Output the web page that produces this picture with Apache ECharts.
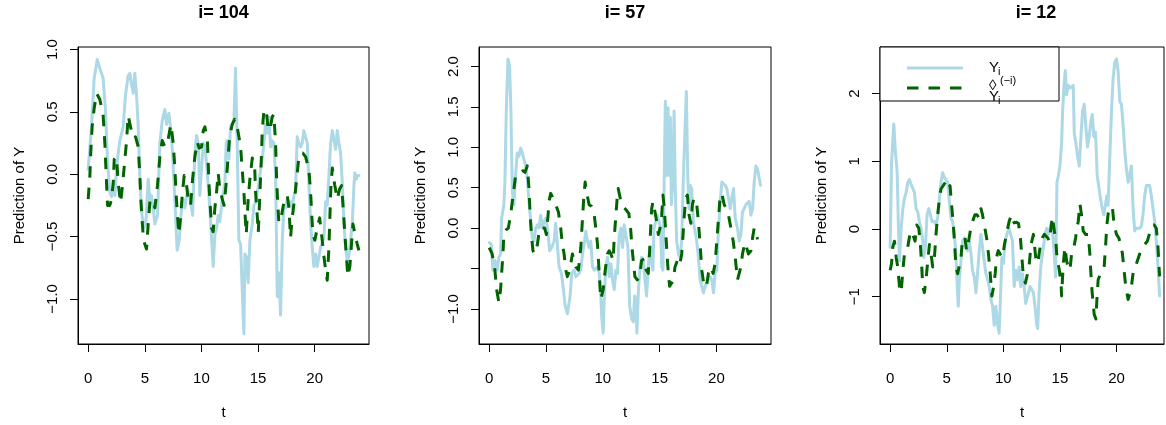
<!DOCTYPE html>
<html>
<head>
<meta charset="utf-8">
<script src="https://cdn.jsdelivr.net/npm/echarts@6/dist/echarts.min.js"></script>
<style>
html,body{margin:0;padding:0;background:#fff;}
#chart{width:1166px;height:425px;}
</style>
</head>
<body>
<div id="chart"></div>
<script>
// ---- data (t, value) ----
const titles = ['i= 104', 'i= 57', 'i= 12'];
const xTicks = [0, 5, 10, 15, 20];
const p1YTicks = [-1, -0.5, 0, 0.5, 1];
const p1YLabels = [-1, -0.5, 0, 0.5, 1];
const p2YTicks = [-1, -0.5, 0, 0.5, 1, 1.5, 2];
const p2YLabels = [-1, 0, 0.5, 1, 1.5, 2];
const p3YTicks = [-1, 0, 1, 2];
const p3YLabels = [-1, 0, 1, 2];

const p1Actual = [[0,0.04],[0.29,0.38],[0.53,0.77],[0.8,0.92],[1.03,0.85],[1.32,0.77],[1.53,0.51],[1.7,0.12],[1.91,-0.14],[2.06,-0.18],[2.21,-0.12],[2.36,-0.17],[2.5,0.04],[2.65,0.17],[2.8,0.27],[2.94,0.26],[3.09,0.38],[3.3,0.64],[3.53,0.79],[3.68,0.81],[3.83,0.72],[3.98,0.65],[4.12,0.81],[4.27,0.64],[4.42,0.38],[4.56,-0.01],[4.71,-0.3],[4.92,-0.43],[5.09,-0.4],[5.3,-0.04],[5.45,-0.22],[5.59,-0.17],[5.74,-0.27],[5.89,-0.4],[6.12,-0.33],[6.33,0.25],[6.54,0.43],[6.77,0.52],[6.92,0.4],[7.13,0.49],[7.3,0.35],[7.45,0.17],[7.66,-0.22],[7.86,-0.61],[8.04,-0.53],[8.25,-0.27],[8.39,-0.2],[8.54,-0.27],[8.69,-0.17],[8.83,-0.13],[9.04,-0.22],[9.22,-0.33],[9.42,0.17],[9.57,0.31],[9.72,0.25],[9.86,-0.17],[10.01,-0.16],[10.16,0.25],[10.31,0.23],[10.45,0.09],[10.69,-0.2],[10.84,-0.43],[11.04,-0.74],[11.19,-0.48],[11.34,-0.43],[11.48,-0.33],[11.63,-0.38],[11.84,-0.2],[12.07,-0.07],[12.19,0.25],[12.28,0.27],[12.43,0.12],[12.57,0.38],[12.72,0.4],[12.87,0.43],[13.01,0.85],[13.16,0.25],[13.31,-0.53],[13.46,-0.56],[13.6,-0.92],[13.75,-1.28],[13.84,-0.64],[13.96,-0.66],[14.13,-0.87],[14.28,-0.53],[14.49,-0.4],[14.63,-0.25],[14.78,-0.23],[14.93,-0.22],[15.08,-0.07],[15.22,0.04],[15.37,0.12],[15.52,0.25],[15.66,0.4],[15.81,0.33],[15.96,0.46],[16.11,0.22],[16.25,0.27],[16.4,0.25],[16.55,-0.01],[16.7,-0.98],[16.84,-0.79],[16.99,-1.13],[17.14,-0.53],[17.29,-0.25],[17.43,-0.27],[17.58,-0.2],[17.73,-0.25],[17.87,-0.22],[18.02,-0.27],[18.17,-0.17],[18.31,-0.14],[18.46,0.3],[18.61,0.25],[18.76,0.22],[18.9,0.25],[19.05,0.35],[19.2,0.35],[19.35,0.25],[19.49,-0.07],[19.64,-0.38],[19.79,-0.59],[19.93,-0.74],[20.08,-0.64],[20.23,-0.74],[20.38,-0.66],[20.52,-0.59],[20.67,-0.59],[20.82,-0.51],[20.97,-0.22],[21.11,-0.25],[21.26,-0.01],[21.41,0.25],[21.56,0.35],[21.7,0.35],[21.85,0.2],[22.0,0.35],[22.14,0.25],[22.29,0.17],[22.44,-0.07],[22.58,-0.38],[22.73,-0.59],[22.88,-0.69],[23.02,-0.66],[23.17,-0.53],[23.32,-0.4],[23.47,-0.09],[23.55,0.01],[23.67,-0.04],[23.79,-0.01],[23.91,-0.01]];
const p1Pred = [[0,-0.2],[0.15,-0.01],[0.24,0.2],[0.35,0.38],[0.53,0.53],[0.74,0.65],[1.03,0.6],[1.32,0.47],[1.47,0.25],[1.59,-0.01],[1.71,-0.25],[1.91,-0.25],[2.06,-0.2],[2.21,-0.07],[2.3,0.12],[2.5,0.14],[2.65,-0.07],[2.86,-0.23],[3.03,-0.09],[3.24,0.12],[3.39,0.27],[3.53,0.47],[3.74,0.38],[3.98,0.29],[4.18,0.3],[4.42,0.22],[4.56,-0.01],[4.65,-0.2],[4.77,-0.38],[4.89,-0.53],[5.15,-0.6],[5.3,-0.4],[5.45,-0.22],[5.65,-0.2],[5.89,-0.27],[6.12,-0.09],[6.33,0.14],[6.54,0.27],[6.77,0.22],[7.0,0.25],[7.3,0.4],[7.51,0.25],[7.66,0.04],[7.74,-0.12],[7.86,-0.3],[8.01,-0.48],[8.16,-0.35],[8.3,-0.17],[8.48,-0.01],[8.63,-0.04],[8.83,-0.2],[9.04,-0.25],[9.22,-0.04],[9.42,0.14],[9.63,0.26],[9.8,0.21],[10.01,0.22],[10.16,0.35],[10.31,0.38],[10.54,0.25],[10.66,-0.07],[10.78,-0.25],[10.9,-0.43],[11.04,-0.46],[11.19,-0.27],[11.34,-0.14],[11.48,0.01],[11.63,-0.12],[11.84,-0.2],[12.0,-0.25],[12.19,-0.07],[12.34,0.12],[12.49,0.3],[12.72,0.4],[12.93,0.44],[13.16,0.38],[13.31,0.38],[13.46,0.22],[13.6,0.04],[13.75,-0.14],[13.84,-0.3],[13.96,-0.48],[14.13,-0.2],[14.28,-0.04],[14.49,0.13],[14.7,0.07],[14.78,-0.14],[14.93,-0.33],[15.02,-0.47],[15.16,-0.17],[15.31,0.17],[15.37,0.35],[15.52,0.51],[15.72,0.52],[15.87,0.38],[16.04,0.35],[16.25,0.46],[16.4,0.48],[16.55,0.25],[16.63,-0.01],[16.72,-0.2],[16.84,-0.39],[17.08,-0.33],[17.29,-0.22],[17.58,-0.17],[17.73,-0.27],[17.87,-0.51],[18.02,-0.35],[18.26,-0.17],[18.46,0.01],[18.61,0.14],[18.76,0.17],[18.96,0.17],[19.2,0.14],[19.49,0.04],[19.64,-0.14],[19.73,-0.3],[19.84,-0.48],[20.02,-0.53],[20.23,-0.43],[20.44,-0.35],[20.67,-0.53],[20.82,-0.66],[20.97,-0.77],[21.11,-0.85],[21.26,-0.59],[21.35,-0.33],[21.44,-0.09],[21.56,0.05],[21.76,-0.08],[22.0,-0.2],[22.2,-0.12],[22.38,-0.09],[22.52,-0.27],[22.67,-0.48],[22.79,-0.64],[22.93,-0.82],[23.11,-0.74],[23.23,-0.59],[23.38,-0.4],[23.55,-0.39],[23.76,-0.56],[23.91,-0.61]];

const p2Actual = [[0,-0.18],[0.18,-0.2],[0.32,-0.52],[0.5,-0.4],[0.71,-0.52],[0.85,-0.36],[1.0,-0.32],[1.09,0.12],[1.29,0.29],[1.38,0.57],[1.5,1.45],[1.65,2.09],[1.79,2.01],[1.91,1.45],[2.03,0.45],[2.18,0.29],[2.32,0.65],[2.47,0.93],[2.62,0.89],[2.76,0.99],[2.91,0.93],[3.06,0.85],[3.21,0.77],[3.35,0.61],[3.5,0.33],[3.65,0.08],[3.79,-0.12],[3.94,-0.16],[4.09,0.0],[4.24,0.04],[4.38,0.0],[4.53,0.16],[4.68,0.0],[4.82,0.08],[4.97,0.12],[5.12,0.0],[5.32,-0.28],[5.5,-0.24],[5.71,-0.16],[5.85,0.06],[6.0,0.04],[6.15,-0.48],[6.35,-0.56],[6.5,-0.72],[6.68,-0.96],[6.88,-1.06],[7.03,-1.08],[7.12,-0.84],[7.26,-0.56],[7.47,-0.52],[7.62,-0.6],[7.76,-0.6],[7.91,-0.56],[8.06,-0.52],[8.21,-0.32],[8.35,-0.2],[8.5,-0.04],[8.65,-0.16],[8.79,-0.24],[8.94,-0.16],[9.09,-0.48],[9.24,-0.52],[9.38,-0.52],[9.53,-0.48],[9.68,-0.56],[9.82,-0.84],[9.91,-1.12],[10.03,-1.3],[10.12,-0.88],[10.26,-0.48],[10.41,-0.36],[10.56,-0.6],[10.71,-0.44],[10.85,-0.64],[11.0,-0.76],[11.15,-0.52],[11.29,-0.56],[11.44,-0.08],[11.59,0.0],[11.74,-0.24],[11.88,0.04],[12.03,0.06],[12.21,-0.24],[12.36,-0.96],[12.53,-1.12],[12.68,-1.16],[12.8,-0.84],[12.88,-0.88],[13.0,-1.3],[13.12,-0.8],[13.27,-0.48],[13.41,-0.36],[13.56,-0.4],[13.71,-0.64],[13.85,-0.84],[14.0,-0.48],[14.15,-0.24],[14.3,-0.44],[14.41,-0.52],[14.5,0.0],[14.65,0.08],[14.8,0.16],[14.94,0.08],[15.09,0.0],[15.18,-0.48],[15.29,-0.52],[15.38,0.37],[15.5,1.57],[15.62,0.65],[15.74,1.49],[15.85,0.65],[15.94,1.37],[16.03,0.29],[16.15,0.57],[16.27,1.45],[16.38,0.45],[16.5,-0.16],[16.65,-0.32],[16.79,-0.36],[16.94,-0.16],[17.09,0.65],[17.24,1.25],[17.35,1.69],[17.47,0.65],[17.59,0.24],[17.68,0.53],[17.82,0.49],[17.97,0.08],[18.12,-0.04],[18.26,-0.16],[18.41,-0.36],[18.56,-0.64],[18.71,-0.72],[18.85,-0.8],[19.0,-0.72],[19.15,-0.74],[19.29,-0.64],[19.44,-0.6],[19.59,-0.64],[19.74,-0.8],[19.88,-0.56],[20.03,-0.52],[20.18,0.0],[20.33,0.33],[20.47,0.57],[20.62,0.59],[20.77,0.53],[20.91,0.49],[21.06,0.37],[21.21,0.24],[21.35,0.37],[21.5,0.49],[21.65,0.12],[21.85,0.0],[22.0,-0.16],[22.15,-0.08],[22.29,0.2],[22.44,0.24],[22.59,0.29],[22.74,0.27],[22.88,0.33],[23.03,0.16],[23.18,0.24],[23.32,0.57],[23.47,0.77],[23.62,0.73],[23.77,0.61],[23.88,0.53]];
const p2Pred = [[0,-0.24],[0.26,-0.32],[0.5,-0.52],[0.65,-0.76],[0.85,-0.92],[1.0,-0.76],[1.09,-0.56],[1.21,-0.32],[1.29,-0.06],[1.5,-0.02],[1.68,0.0],[1.88,0.16],[2.03,0.33],[2.18,0.49],[2.32,0.65],[2.56,0.69],[2.76,0.69],[2.97,0.71],[3.15,0.69],[3.35,0.77],[3.5,0.49],[3.59,0.2],[3.71,-0.08],[3.85,-0.28],[4.03,-0.32],[4.24,-0.2],[4.44,0.0],[4.68,0.0],[4.88,0.0],[5.03,-0.08],[5.18,0.16],[5.26,0.33],[5.41,0.43],[5.62,0.37],[5.85,0.29],[6.09,0.2],[6.29,0.0],[6.44,-0.2],[6.59,-0.32],[6.74,-0.52],[6.88,-0.6],[7.09,-0.52],[7.32,-0.32],[7.62,-0.48],[7.85,-0.52],[8.06,-0.24],[8.21,0.12],[8.32,0.37],[8.44,0.57],[8.62,0.41],[8.79,0.29],[9.0,0.27],[9.21,0.2],[9.38,0.0],[9.53,-0.2],[9.68,-0.56],[9.82,-0.88],[10.03,-0.76],[10.21,-0.52],[10.41,-0.32],[10.56,-0.28],[10.71,-0.32],[10.91,-0.4],[11.0,-0.12],[11.15,0.16],[11.26,0.37],[11.35,0.49],[11.59,0.33],[11.79,0.26],[12.03,0.23],[12.29,0.18],[12.44,0.0],[12.59,-0.28],[12.74,-0.48],[12.82,-0.6],[13.03,-0.64],[13.24,-0.6],[13.41,-0.4],[13.62,-0.38],[13.82,-0.52],[14.0,-0.56],[14.12,-0.28],[14.21,0.0],[14.3,0.24],[14.41,0.33],[14.59,0.2],[14.74,0.08],[14.88,-0.08],[15.03,0.0],[15.18,0.16],[15.29,0.41],[15.41,0.24],[15.53,-0.04],[15.65,-0.32],[15.76,-0.56],[15.88,-0.72],[16.06,-0.68],[16.21,-0.64],[16.35,-0.48],[16.56,-0.4],[16.76,-0.46],[16.94,-0.32],[17.06,-0.08],[17.15,0.12],[17.29,0.37],[17.44,0.41],[17.59,0.16],[17.74,0.06],[17.88,0.29],[18.03,0.37],[18.24,0.33],[18.41,0.08],[18.56,-0.2],[18.71,-0.52],[18.91,-0.72],[19.12,-0.72],[19.29,-0.56],[19.5,-0.48],[19.71,-0.56],[19.88,-0.44],[20.03,-0.16],[20.18,0.12],[20.29,0.33],[20.47,0.43],[20.68,0.29],[20.88,0.24],[21.06,0.16],[21.27,0.0],[21.47,-0.16],[21.65,-0.36],[21.85,-0.64],[22.0,-0.56],[22.15,-0.48],[22.29,-0.32],[22.5,-0.18],[22.65,-0.24],[22.82,-0.32],[23.03,-0.28],[23.18,-0.12],[23.32,0.0],[23.47,-0.06],[23.62,-0.14]];

const p3Actual = [[0,-0.27],[0.12,0.97],[0.23,1.31],[0.32,1.55],[0.47,1.12],[0.62,0.83],[0.73,0.01],[0.82,-0.47],[0.97,0.01],[1.12,0.3],[1.26,0.45],[1.41,0.54],[1.56,0.69],[1.7,0.73],[1.85,0.66],[2.0,0.64],[2.14,0.54],[2.29,0.3],[2.44,0.25],[2.58,0.11],[2.73,0.01],[2.88,-0.18],[2.97,-0.42],[3.11,-0.27],[3.26,0.21],[3.41,0.3],[3.55,0.21],[3.7,0.11],[3.91,0.11],[4.05,0.06],[4.2,0.16],[4.35,0.45],[4.49,0.69],[4.64,0.83],[4.79,0.76],[4.93,0.76],[5.08,0.69],[5.23,0.4],[5.37,0.16],[5.52,0.11],[5.67,-0.08],[5.81,-0.37],[5.9,-0.75],[6.02,-1.14],[6.11,-0.75],[6.26,-0.47],[6.4,-0.18],[6.55,-0.13],[6.7,-0.18],[6.84,-0.32],[6.99,-0.18],[7.14,-0.37],[7.28,-0.61],[7.43,-0.71],[7.58,-0.94],[7.72,-0.66],[7.87,-0.32],[8.02,-0.08],[8.16,-0.27],[8.31,-0.47],[8.46,-0.66],[8.61,-0.75],[8.75,-0.85],[8.9,-1.04],[9.05,-1.14],[9.19,-1.42],[9.34,-1.14],[9.49,-1.42],[9.63,-1.54],[9.72,-1.14],[9.87,-0.42],[10.01,-0.51],[10.16,-0.18],[10.31,-0.08],[10.51,0.01],[10.66,0.01],[10.81,-0.18],[10.96,-0.85],[11.1,-0.61],[11.25,-0.75],[11.4,-0.56],[11.54,-0.85],[11.69,-0.66],[11.84,-0.85],[11.98,-1.1],[12.13,-1.0],[12.36,-0.85],[12.51,-0.85],[12.66,-0.94],[12.8,-1.14],[12.95,-1.42],[13.04,-1.47],[13.16,-0.94],[13.31,-0.56],[13.45,-0.37],[13.57,-0.23],[13.68,-0.08],[13.83,0.01],[13.98,-0.08],[14.12,0.01],[14.27,0.11],[14.42,-0.18],[14.5,-0.37],[14.62,-0.71],[14.74,0.69],[14.86,0.78],[15.0,0.93],[15.15,1.26],[15.24,1.74],[15.36,2.12],[15.48,2.34],[15.59,1.98],[15.74,2.12],[15.89,2.08],[16.03,2.1],[16.18,2.12],[16.27,1.41],[16.42,1.26],[16.56,1.07],[16.71,0.93],[16.86,1.36],[17.0,1.74],[17.15,1.84],[17.3,1.5],[17.44,1.21],[17.59,1.36],[17.74,1.6],[17.86,1.69],[18.0,1.36],[18.15,1.43],[18.3,0.78],[18.44,0.78],[18.59,0.45],[18.74,0.3],[18.88,0.21],[19.03,0.21],[19.15,0.49],[19.26,0.35],[19.41,1.07],[19.56,1.74],[19.7,2.22],[19.85,2.46],[20.0,2.51],[20.15,2.32],[20.29,1.88],[20.44,1.84],[20.58,1.55],[20.73,1.17],[20.88,0.88],[21.03,0.69],[21.17,0.69],[21.32,0.93],[21.47,0.3],[21.61,-0.03],[21.76,0.01],[21.91,0.01],[22.05,0.01],[22.2,0.04],[22.34,0.21],[22.49,0.49],[22.64,0.64],[22.79,0.66],[22.93,0.64],[23.08,0.49],[23.23,0.3],[23.38,0.11],[23.52,-0.18],[23.67,-0.56],[23.81,-0.99]];
const p3Pred = [[0,-0.61],[0.12,-0.51],[0.23,-0.27],[0.38,-0.18],[0.53,-0.42],[0.67,-0.56],[0.82,-0.85],[0.97,-0.94],[1.12,-0.61],[1.26,-0.37],[1.47,-0.35],[1.64,-0.37],[1.79,-0.03],[2.0,-0.08],[2.2,-0.18],[2.35,0.06],[2.53,0.01],[2.67,-0.23],[2.79,-0.56],[2.88,-0.85],[3.02,-0.94],[3.17,-0.75],[3.32,-0.47],[3.47,-0.23],[3.61,-0.37],[3.76,-0.56],[3.91,-0.42],[4.05,-0.08],[4.2,0.21],[4.35,0.45],[4.49,0.59],[4.64,0.59],[4.88,0.69],[5.08,0.59],[5.29,0.64],[5.43,0.35],[5.58,0.06],[5.7,-0.23],[5.81,-0.56],[5.96,-0.66],[6.11,-0.66],[6.26,-0.42],[6.4,-0.13],[6.61,-0.13],[6.75,-0.32],[6.93,-0.18],[7.08,-0.03],[7.28,0.11],[7.49,0.21],[7.67,0.21],[7.87,0.16],[8.02,0.3],[8.16,0.21],[8.37,0.01],[8.52,-0.13],[8.69,-0.37],[8.84,-0.66],[8.99,-0.99],[9.14,-0.85],[9.28,-0.66],[9.4,-0.42],[9.55,-0.32],[9.72,-0.37],[9.93,-0.42],[10.1,-0.23],[10.28,-0.08],[10.51,0.11],[10.72,0.21],[10.95,0.09],[11.16,0.1],[11.34,0.08],[11.51,-0.13],[11.63,-0.4],[11.77,-0.7],[11.95,-0.8],[12.1,-0.8],[12.27,-0.56],[12.45,-0.23],[12.66,-0.08],[12.86,-0.42],[13.04,-0.51],[13.16,-0.37],[13.33,-0.18],[13.45,-0.13],[13.62,-0.08],[13.77,-0.08],[13.92,-0.13],[14.06,-0.18],[14.21,0.01],[14.33,0.18],[14.51,-0.03],[14.62,-0.13],[14.74,-0.42],[14.95,-0.61],[15.1,-0.8],[15.15,-0.99],[15.3,-0.51],[15.45,-0.27],[15.59,-0.47],[15.74,-0.56],[15.89,-0.61],[16.03,-0.37],[16.24,-0.27],[16.39,-0.13],[16.5,0.01],[16.62,0.11],[16.77,0.37],[16.91,0.21],[17.06,-0.03],[17.27,-0.08],[17.5,-0.08],[17.65,-0.37],[17.74,-0.66],[17.85,-0.94],[18.03,-1.26],[18.18,-1.33],[18.27,-1.04],[18.38,-0.75],[18.59,-0.66],[18.76,-0.61],[18.91,-0.56],[19.03,-0.27],[19.15,0.06],[19.32,0.3],[19.5,0.33],[19.65,0.3],[19.79,0.06],[20.0,-0.08],[20.2,-0.13],[20.38,-0.23],[20.53,-0.37],[20.67,-0.61],[20.82,-0.85],[21.03,-1.04],[21.2,-0.94],[21.32,-0.85],[21.5,-0.61],[21.67,-0.56],[21.85,-0.47],[22.05,-0.37],[22.29,-0.27],[22.49,-0.23],[22.73,-0.18],[22.93,-0.06],[23.08,0.01],[23.32,0.06],[23.52,0.01],[23.67,-0.27],[23.76,-0.56],[23.81,-0.7]];

// ---- rendering ----
const FONT = "'Liberation Sans', Arial, Helvetica, sans-serif";
const BLUE = '#ADD8E6';
const GREEN = '#006400';
const DASH = [11.5, 10];

function num(v, dec) {
  const s = Math.abs(v).toFixed(dec);
  return v < 0 ? '\u2212' + s : s;
}

const panels = [
  {grid: {left: 78, top: 47, width: 291, height: 305}, x: [-0.9, 24.8], y: [-1.362, 1.021], yTicks: p1YTicks, yLabels: p1YLabels, dec: 1, actual: p1Actual, pred: p1Pred},
  {grid: {left: 479, top: 47, width: 292, height: 305}, x: [-0.9, 24.8], y: [-1.434, 2.241], yTicks: p2YTicks, yLabels: p2YLabels, dec: 1, actual: p2Actual, pred: p2Pred},
  {grid: {left: 880, top: 47, width: 284, height: 305}, x: [-0.9, 24.2], y: [-1.698, 2.686], yTicks: p3YTicks, yLabels: p3YLabels, dec: 0, actual: p3Actual, pred: p3Pred}
];

const axisLine = {show: true, onZero: false, lineStyle: {color: '#000', width: 1}};
const grid = [], xAxis = [], yAxis = [], series = [];
panels.forEach((p, i) => {
  grid.push(Object.assign({show: true, borderColor: '#000', borderWidth: 1, backgroundColor: '#fff', containLabel: false}, p.grid));
  xAxis.push({
    type: 'value', gridIndex: i, min: p.x[0], max: p.x[1], position: 'bottom',
    name: 't', nameLocation: 'middle', nameGap: 61,
    nameTextStyle: {fontFamily: FONT, fontSize: 15, color: '#000'},
    axisLine: axisLine,
    axisTick: {show: true, inside: false, length: 8, customValues: xTicks, lineStyle: {color: '#000', width: 1}},
    axisLabel: {show: true, inside: false, margin: 27, customValues: xTicks, fontFamily: FONT, fontSize: 15, color: '#000', formatter: v => num(v, 0)},
    splitLine: {show: false}
  });
  yAxis.push({
    type: 'value', gridIndex: i, min: p.y[0], max: p.y[1], position: 'left',
    name: 'Prediction of Y', nameLocation: 'middle', nameGap: 51, nameRotate: 90,
    nameTextStyle: {fontFamily: FONT, fontSize: 15, color: '#000'},
    axisLine: axisLine,
    axisTick: {show: true, inside: false, length: 8, customValues: p.yTicks, lineStyle: {color: '#000', width: 1}},
    axisLabel: {show: true, inside: false, rotate: 90, margin: 18, customValues: p.yLabels, fontFamily: FONT, fontSize: 15, color: '#000', formatter: v => num(v, p.dec)},
    splitLine: {show: false}
  });
  series.push({
    type: 'line', xAxisIndex: i, yAxisIndex: i, data: p.actual, showSymbol: false, symbol: 'none',
    lineStyle: {color: BLUE, width: 3, cap: 'round', join: 'round'}, z: 2, clip: true
  });
  series.push({
    type: 'line', xAxisIndex: i, yAxisIndex: i, data: p.pred, showSymbol: false, symbol: 'none',
    lineStyle: {color: GREEN, width: 3, type: DASH, cap: 'butt', join: 'round'}, z: 3, clip: true
  });
});

const titleX = [223.5, 625, 1036];
const graphic = titles.map((t, i) => ({
  type: 'text', x: titleX[i], y: 13, silent: true,
  style: {text: t, font: 'bold 18px ' + FONT, fill: '#000', align: 'center', verticalAlign: 'middle', textAlign: 'center', textVerticalAlign: 'middle'}
}));

// legend box in panel 3
graphic.push({type: 'rect', z: 100, shape: {x: 880, y: 47, width: 179, height: 54}, style: {fill: '#fff', stroke: '#000', lineWidth: 1}});
graphic.push({type: 'line', z: 101, shape: {x1: 907, y1: 68, x2: 963, y2: 68}, style: {stroke: BLUE, lineWidth: 3}});
graphic.push({type: 'line', z: 101, shape: {x1: 907, y1: 88, x2: 962, y2: 88}, style: {stroke: GREEN, lineWidth: 3, lineDash: DASH}});
const legendText = [
  {t: 'Y', x: 989, y: 68, s: 15},
  {t: 'i', x: 998, y: 72, s: 11},
  {t: '\u25CA', x: 989, y: 85.5, s: 15},
  {t: '(\u2212i)', x: 1000, y: 80.5, s: 11},
  {t: 'Y', x: 989, y: 96.5, s: 15},
  {t: 'i', x: 998, y: 100.5, s: 11}
];
legendText.forEach(o => graphic.push({
  type: 'text', z: 102, x: o.x, y: o.y, silent: true,
  style: {text: o.t, font: o.s + 'px ' + FONT, fill: '#000', align: 'left', verticalAlign: 'middle', textAlign: 'left', textVerticalAlign: 'middle'}
}));

const chart = echarts.init(document.getElementById('chart'), null, {renderer: 'canvas'});
chart.setOption({
  animation: false,
  backgroundColor: '#fff',
  grid, xAxis, yAxis, series, graphic
});
</script>
</body>
</html>
